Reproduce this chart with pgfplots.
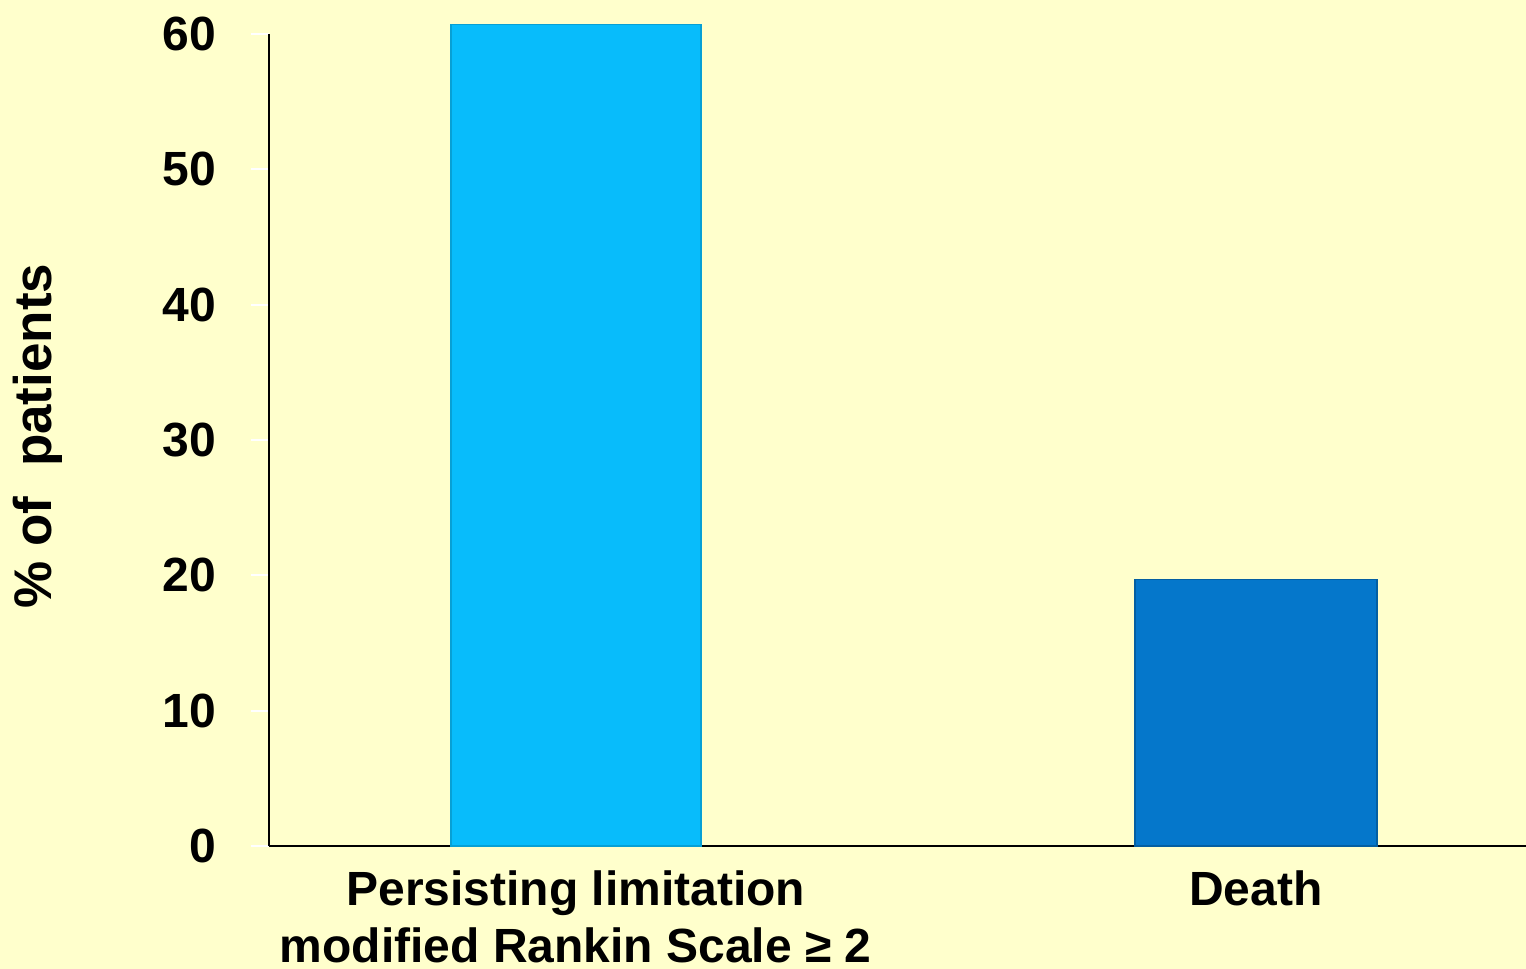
\documentclass[border=0pt]{standalone}
\usepackage{fontspec}
\setmainfont{Liberation Sans}
\usepackage{pgfplots}
\pgfplotsset{compat=1.18}
\definecolor{bgyellow}{HTML}{FFFFCC}
\definecolor{barlight}{HTML}{08BCFB}
\definecolor{bardark}{HTML}{0577CB}
\begin{document}
\begin{tikzpicture}
\fill[bgyellow] (-134.5pt,-61.5pt) rectangle (628.5pt,423pt);
\begin{axis}[
  at={(0,0)}, anchor=south west,
  scale only axis, width=628.5pt, height=406pt,
  xmin=-0.451, xmax=1.397, ymin=0, ymax=60,
  clip=false,
  axis x line*=bottom, axis y line*=left,
  axis line style={black, line width=1pt},
  xtick={0,1},
  xticklabels={{Persisting limitation\\modified Rankin Scale ≥ 2}, Death},
  xtick style={draw=none},
  ytick={0,10,...,60},
  tick align=outside, major tick length=9pt,
  ytick style={white, line width=1pt},
  /pgf/number format/assume math mode=true,
  ticklabel style={font=\fontsize{24}{28.5}\selectfont\bfseries},
  yticklabel style={xshift=-14pt},
  xticklabel style={align=center},
  ylabel={\% of\ \ patients},
  ylabel style={font=\fontsize{26.5}{31}\selectfont\bfseries, at={(axis description cs:-0.184,0.505)}, anchor=center},
]
\addplot[ybar, bar shift=0pt, bar width=125pt, fill=barlight, draw=barlight!85!black, line width=0.8pt] coordinates {(0,60.7)};
\addplot[ybar, bar shift=0pt, bar width=121pt, fill=bardark, draw=bardark!80!black, line width=0.8pt] coordinates {(1,19.7)};
\end{axis}
\pgfresetboundingbox
\path (-134.5pt,-61.5pt) rectangle (628.5pt,423pt);
\end{tikzpicture}
\end{document}
